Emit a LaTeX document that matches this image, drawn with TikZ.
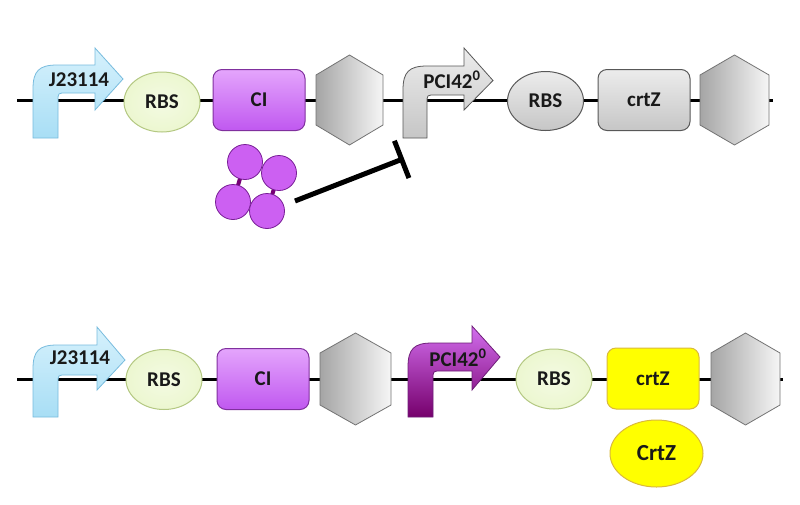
\documentclass[tikz,border=0pt]{standalone}
\usepackage{fontspec}
\setmainfont{Carlito}
\usetikzlibrary{shapes.geometric,arrows.meta}
\definecolor{blueT}{RGB}{214,241,252}
\definecolor{blueB}{RGB}{168,222,245}
\definecolor{blueD}{RGB}{120,188,222}
\definecolor{rbsG}{RGB}{236,247,208}
\definecolor{rbsD}{RGB}{180,200,130}
\definecolor{ciT}{RGB}{228,165,252}
\definecolor{ciB}{RGB}{192,88,240}
\definecolor{ciD}{RGB}{128,48,158}
\definecolor{grT}{RGB}{236,236,236}
\definecolor{grB}{RGB}{198,198,198}
\definecolor{grD}{RGB}{88,88,88}
\definecolor{hexL}{RGB}{165,165,165}
\definecolor{hexR}{RGB}{246,246,246}
\definecolor{hexD}{RGB}{115,115,115}
\definecolor{ppT}{RGB}{210,110,238}
\definecolor{ppB}{RGB}{118,0,108}
\definecolor{ppD}{RGB}{110,30,120}
\definecolor{yelF}{RGB}{255,255,0}
\definecolor{yelD}{RGB}{218,185,60}
\definecolor{tetF}{RGB}{204,96,242}
\definecolor{tetD}{RGB}{120,30,150}
\definecolor{tetL}{RGB}{118,0,118}
\definecolor{txt}{RGB}{25,25,25}
% bent promoter arrow: x0 x1 ybottom ytop ybarbottom xbase yheadtop yheadbottom xtip
\newcommand{\bentarrow}[9]{(#1,#3) -- (#1,#4+24) .. controls (#1,#4+6) and (#1+6,#4) .. (#1+24,#4) -- (#6,#4) -- (#6,#7) -- (#9,{(#4+#5)/2}) -- (#6,#8) -- (#6,#5) -- (#2+8,#5) .. controls (#2,#5) .. (#2,#5+8) -- (#2,#3) -- cycle}
\newcommand{\hexagonat}[4]{(#1,#2-#4) -- (#1+#3,#2-#4+20) -- (#1+#3,#2+#4-20) -- (#1,#2+#4) -- (#1-#3,#2+#4-20) -- (#1-#3,#2-#4+20) -- cycle}
\tikzset{
  dna/.style={line width=3pt,black},
  lbl/.style={font=\bfseries\fontsize{21}{22}\selectfont,text=txt},
  rbsG/.style={ellipse,draw=rbsD,line width=1pt,inner color=rbsG!60!white,outer color=rbsG,minimum width=76pt,minimum height=60pt,lbl},
  rbsGray/.style={ellipse,draw=grD,line width=1pt,top color=grT,bottom color=grB,minimum width=76pt,minimum height=59pt,lbl},
  cds/.style={rectangle,rounded corners=9pt,line width=1pt,minimum width=92pt,minimum height=61pt,lbl},
  ciBox/.style={cds,draw=ciD,top color=ciT,bottom color=ciB},
  grayBox/.style={cds,draw=grD,top color=grT,bottom color=grB},
  yelBox/.style={cds,draw=yelD,fill=yelF},
  hexStyle/.style={draw=hexD,line width=0.8pt,left color=hexL,right color=hexR},
  promBlue/.style={draw=blueD,line width=0.8pt,top color=blueT,bottom color=blueB},
  promGray/.style={draw=grD,line width=0.8pt,top color=grT,bottom color=grB},
  promPurple/.style={draw=ppD,line width=0.8pt,top color=ppT,bottom color=ppB},
  tetC/.style={circle,draw=tetD,line width=0.8pt,fill=tetF,minimum size=35pt,inner sep=0pt},
  tetLink/.style={tetL,line width=4pt},
  inhib/.style={line width=5pt,black,-{Bar[width=40pt]}}
}
\begin{document}
\begin{tikzpicture}[x=1pt,y=-1pt]
\fill[white] (0,0) rectangle (800,504);
\useasboundingbox (0,0) rectangle (800,504);
% ---------- top construct ----------
\coordinate (L1s) at (17,100);
\coordinate (L1e) at (773,100);
\draw[dna] (L1s) -- (L1e);
\path[promBlue] \bentarrow{33}{58}{138}{65}{93}{95}{48}{110}{123};
\node[lbl] (p1) at (79,80) {J23114};
\node[rbsG] (rbs1) at (162,102) {RBS};
\node[ciBox] (ci1) at (259,100) {CI};
\path[hexStyle] \hexagonat{349.5}{100}{33.5}{45};
\coordinate (t1) at (349.5,100);
\path[promGray] \bentarrow{403}{427}{138}{66}{95}{464}{48}{110}{493};
\node[lbl] (p2) at (452,80) {PCI42\textsuperscript{0}};
\node[rbsGray] (rbs2) at (545.5,101) {RBS};
\node[grayBox] (crtz1) at (644,100) {crtZ};
\path[hexStyle] \hexagonat{734.5}{100}{34.5}{45};
\coordinate (t2) at (734.5,100);
% CI tetramer
\draw[tetLink] (245,162) -- (233,202);
\draw[tetLink] (279,173) -- (267,211);
\node[tetC] (c1) at (245,162) {};
\node[tetC] (c2) at (279,173) {};
\node[tetC] (c3) at (233,202) {};
\node[tetC] (c4) at (267,211) {};
\coordinate (inhS) at (295,201);
\coordinate (inhE) at (404,158.5);
\draw[inhib] (inhS) -- (inhE);
% ---------- bottom construct ----------
\coordinate (L2s) at (17,379);
\coordinate (L2e) at (783,379);
\draw[dna] (L2s) -- (L2e);
\path[promBlue] \bentarrow{33}{58}{417}{345}{375}{97}{327}{390}{125};
\node[lbl] (p3) at (80,358) {J23114};
\node[rbsG] (rbs3) at (164,379.5) {RBS};
\node[ciBox] (ci2) at (263,379) {CI};
\path[hexStyle] \hexagonat{355.5}{379}{35.5}{46};
\coordinate (t3) at (355.5,379);
\path[promPurple] \bentarrow{408}{433}{417}{343}{371}{472}{326}{390}{500};
\node[lbl] (p4) at (458,358) {PCI42\textsuperscript{0}};
\node[rbsG] (rbs4) at (554,379) {RBS};
\node[yelBox] (crtz2) at (653,378.5) {crtZ};
\path[hexStyle] \hexagonat{745.5}{379}{34.5}{46};
\coordinate (t4) at (745.5,379);
\node[ellipse,draw=yelD,line width=1pt,fill=yelF,minimum width=93pt,minimum height=67pt,font=\bfseries\fontsize{23}{24}\selectfont,text=txt] (prot) at (656.5,453.5) {CrtZ};
\end{tikzpicture}
\end{document}
